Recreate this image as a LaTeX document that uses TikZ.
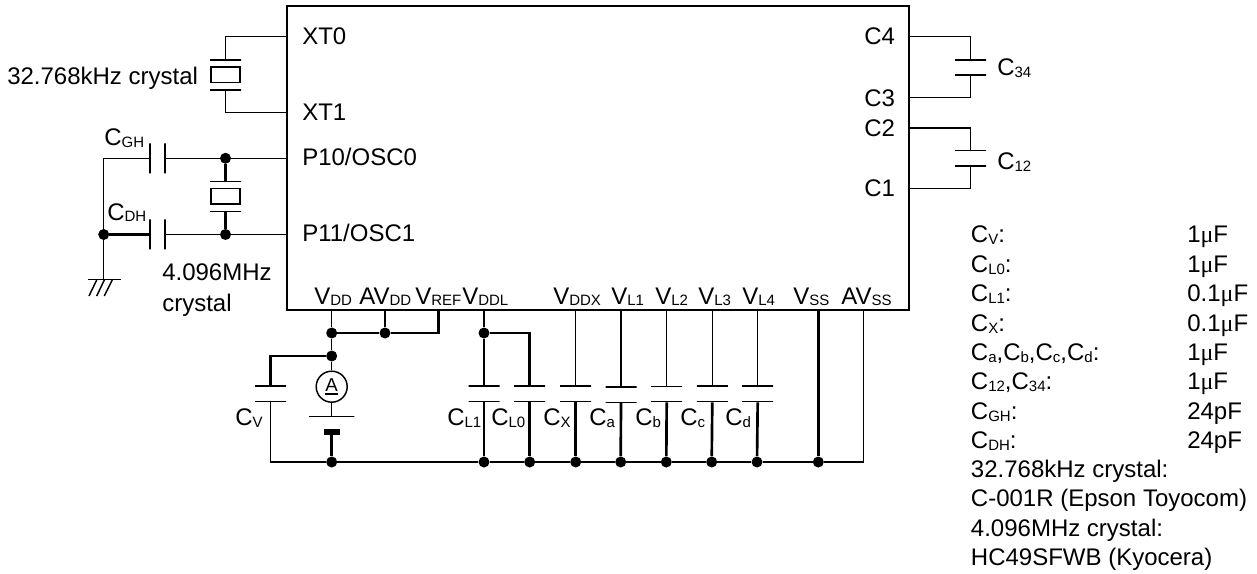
\documentclass[tikz,border=0pt]{standalone}
\usepackage{fontspec}
\setmainfont{Liberation Sans}
\newfontfamily\symfont{Liberation Serif}
\newcommand{\lowidx}[1]{{\fontsize{11.25}{11.25}\selectfont\raisebox{-1.5pt}{#1}}}
\newcommand{\micro}{{\symfont μ}}
\tikzset{
    wire/.style={line width=1.1pt},
    heavy/.style={line width=2pt},
    lbl/.style={inner sep=0pt, anchor=base west, font=\fontsize{18}{18}\selectfont},
    dot/.style={circle, fill=black, inner sep=0pt, minimum size=8.25pt},
    hplate/.style={draw, line width=1.1pt, inner sep=0pt, minimum width=23.25pt, minimum height=0pt},
    vplate/.style={draw, line width=1.1pt, inner sep=0pt, minimum width=0pt, minimum height=22.5pt},
    xtalbox/.style={draw, line width=1.1pt, inner sep=0pt, minimum width=21.5pt, minimum height=11.5pt},
}
\begin{document}
\begin{tikzpicture}[x=0.75pt, y=-0.75pt]
    \useasboundingbox (0,0) rectangle (1257,574);

    % chip
    \node[draw, line width=1.1pt, inner sep=0pt, minimum width=466.5pt, minimum height=228pt] (chip) at (598,158) {};
    \coordinate (xt0) at (286.5,36.7);
    \coordinate (xt1) at (286.5,112.7);
    \coordinate (p10) at (286.5,158.3);
    \coordinate (p11) at (286.5,234.5);
    \coordinate (c4) at (909.5,36.7);
    \coordinate (c3) at (909.5,97.7);
    \coordinate (c2) at (909.5,127.8);
    \coordinate (c1) at (909.5,188.5);
    \coordinate (vdd) at (331.7,310);
    \coordinate (avdd) at (385,310);
    \coordinate (vref) at (438.3,310);
    \coordinate (vddl) at (484,310);
    \coordinate (vddx) at (575.7,310);
    \coordinate (vl1) at (621,310);
    \coordinate (vl2) at (666.7,310);
    \coordinate (vl3) at (712.3,310);
    \coordinate (vl4) at (757.7,310);
    \coordinate (vss) at (818.3,310);
    \coordinate (avss) at (863.7,310);

    \node[lbl] (txt0) at (302,45) {XT0};
    \node[lbl] (txt1) at (302,121) {XT1};
    \node[lbl] (tp10) at (302,166) {P10/OSC0};
    \node[lbl] (tp11) at (302,242) {P11/OSC1};
    \node[lbl] (tc4) at (864,45) {C4};
    \node[lbl] (tc3) at (864,106.7) {C3};
    \node[lbl] (tc2) at (864,136.7) {C2};
    \node[lbl] (tc1) at (864,197) {C1};
    \node[lbl] (tvdd) at (314,304) {V\lowidx{DD}};
    \node[lbl] (tavdd) at (359,304) {AV\lowidx{DD}};
    \node[lbl] (tvref) at (415,304) {V\lowidx{REF}};
    \node[lbl] (tvddl) at (462,304) {V\lowidx{DDL}};
    \node[lbl] (tvddx) at (553,304) {V\lowidx{DDX}};
    \node[lbl] (tvl1) at (611,304) {V\lowidx{L1}};
    \node[lbl] (tvl2) at (655,304) {V\lowidx{L2}};
    \node[lbl] (tvl3) at (698,304) {V\lowidx{L3}};
    \node[lbl] (tvl4) at (742,304) {V\lowidx{L4}};
    \node[lbl] (tvss) at (793,304) {V\lowidx{SS}};
    \node[lbl] (tavss) at (841,304) {AV\lowidx{SS}};

    % 32.768kHz crystal
    \node[hplate] (xa) at (225.5,60) {};
    \node[hplate] (xb) at (225.5,90) {};
    \node[xtalbox] (xbox) at (225.5,74.7) {};
    \draw[wire] (xt0) -| (xa);
    \draw[wire] (xt1) -| (xb);
    \node[lbl] (txa) at (7,85) {32.768kHz crystal};

    % 4.096MHz crystal and its capacitors
    \node[dot] (j10) at (225.5,158.3) {};
    \node[dot] (j11) at (225.5,234.5) {};
    \node[dot] (jg) at (103.7,234.5) {};
    \node[hplate] (ya) at (225.5,181.5) {};
    \node[hplate] (yb) at (225.5,211.5) {};
    \node[xtalbox] (ybox) at (225.5,196.2) {};
    \node[vplate] (cgha) at (150,158.3) {};
    \node[vplate] (cghb) at (165,158.3) {};
    \node[vplate] (cdha) at (150,234.5) {};
    \node[vplate] (cdhb) at (165,234.5) {};
    \draw[wire] (p10) -- (j10);
    \draw[wire] (p11) -- (j11);
    \draw[wire] (j10) -- (cghb);
    \draw[wire] (j11) -- (cdhb);
    \draw[heavy] (j10) -- (ya);
    \draw[heavy] (j11) -- (yb);
    \draw[wire] (cgha) -| (jg);
    \draw[heavy] (jg) -- (cdha);
    \coordinate (gnd) at (103.7,279.7);
    \draw[wire] (jg) -- (gnd);
    \coordinate (gl) at (88,279.7);
    \coordinate (gr) at (120.7,279.7);
    \draw[wire] (gl) -- (gr);
    \coordinate (h1a) at (96.7,280);
    \coordinate (h1b) at (89,296);
    \coordinate (h2a) at (104.3,280);
    \coordinate (h2b) at (96.7,296);
    \coordinate (h3a) at (112.3,280);
    \coordinate (h3b) at (104.3,296);
    \draw[wire] (h1a) -- (h1b);
    \draw[wire] (h2a) -- (h2b);
    \draw[wire] (h3a) -- (h3b);
    \node[lbl] (tcgh) at (104,146) {C\lowidx{GH}};
    \node[lbl] (tcdh) at (107,220) {C\lowidx{DH}};
    \node[lbl] (tya) at (162,280) {4.096MHz};
    \node[lbl] (tyb) at (162,311) {crystal};

    % C34 and C12
    \node[hplate] (c34a) at (970.7,60) {};
    \node[hplate] (c34b) at (970.7,75) {};
    \node[hplate] (c12a) at (970.7,150.7) {};
    \node[hplate] (c12b) at (970.7,166) {};
    \draw[wire] (c4) -| (c34a);
    \draw[wire] (c3) -| (c34b);
    \draw[wire] (c2) -| (c12a);
    \draw[wire] (c1) -| (c12b);
    \node[lbl] (tc34) at (997,76) {C\lowidx{34}};
    \node[lbl] (tc12) at (997,170) {C\lowidx{12}};

    % supply side
    \node[dot] (jdd) at (331.7,333) {};
    \node[dot] (jav) at (385,333) {};
    \node[dot] (jcv) at (331.7,356) {};
    \node[dot] (jdl) at (484,333) {};
    \node[hplate] (cva) at (270.7,386) {};
    \node[hplate] (cvb) at (270.7,401.7) {};
    \node[draw, circle, line width=1.1pt, inner sep=0pt, minimum size=23.25pt] (amp) at (331.7,386.7) {\fontsize{14}{14}\selectfont A\llap{\rule[-2.4pt]{9.4pt}{1.2pt}}};
    \node[hplate, minimum width=34pt] (bata) at (331.7,416.7) {};
    \node[hplate, fill=black, minimum width=11pt, minimum height=3pt] (batb) at (331.7,432) {};
    \draw[wire] (vdd) -- (jdd);
    \draw[wire] (jdd) -- (jcv);
    \draw[heavy] (avdd) -- (jav);
    \draw[heavy] (jdd) -- (jav);
    \draw[heavy] (jav) -| (vref);
    \draw[heavy] (jcv) -| (cva);
    \draw[wire] (jcv) -- (amp);
    \draw[wire] (amp) -- (bata);

    % capacitors on the pins
    \node[hplate] (cl1a) at (484,386) {};
    \node[hplate] (cl1b) at (484,401.7) {};
    \node[hplate] (cl0a) at (529.7,386) {};
    \node[hplate] (cl0b) at (529.7,401.7) {};
    \node[hplate] (cxa) at (575.7,386) {};
    \node[hplate] (cxb) at (575.7,401.7) {};
    \node[hplate] (caa) at (621,387) {};
    \node[hplate] (cab) at (621,402.5) {};
    \node[hplate] (cba) at (666.7,386.5) {};
    \node[hplate] (cbb) at (666.7,401.7) {};
    \node[hplate] (cca) at (712.3,386) {};
    \node[hplate] (ccb) at (712.3,401.7) {};
    \node[hplate] (cda) at (757.7,386) {};
    \node[hplate] (cdb) at (757.7,401.7) {};
    \draw[wire] (vddl) -- (jdl);
    \draw[wire] (jdl) -- (cl1a);
    \draw[heavy] (jdl) -| (cl0a);
    \draw[wire] (vddx) -- (cxa);
    \draw[wire] (vl1) -- (caa);
    \draw[wire] (vl2) -- (cba);
    \draw[wire] (vl3) -- (cca);
    \draw[wire] (vl4) -- (cda);

    % ground rail
    \node[dot] (b0) at (331.7,462) {};
    \node[dot] (b1) at (484,462) {};
    \node[dot] (b2) at (529.7,462) {};
    \node[dot] (b3) at (575.7,462) {};
    \node[dot] (b4) at (620.7,462) {};
    \node[dot] (b5) at (666.3,462) {};
    \node[dot] (b6) at (711.7,462) {};
    \node[dot] (b7) at (757,462) {};
    \node[dot] (b8) at (818.3,462) {};
    \draw[wire] (cvb) |- (b0);
    \draw[wire] (b0) -- (b1);
    \draw[wire] (b1) -- (b2);
    \draw[wire] (b2) -- (b3);
    \draw[wire] (b3) -- (b4);
    \draw[wire] (b4) -- (b5);
    \draw[wire] (b5) -- (b6);
    \draw[wire] (b6) -- (b7);
    \draw[wire] (b7) -- (b8);
    \draw[wire] (b8) -| (avss);
    \draw[heavy] (batb) -- (b0);
    \draw[heavy] (cl1b) -- (b1);
    \draw[heavy] (cl0b) -- (b2);
    \draw[heavy] (cxb) -- (b3);
    \draw[heavy] (cab) -- (b4);
    \draw[heavy] (cbb) -- (b5);
    \draw[heavy] (ccb) -- (b6);
    \draw[heavy] (cdb) -- (b7);
    \draw[heavy] (vss) -- (b8);

    \node[lbl] (tcv) at (235,425) {C\lowidx{V}};
    \node[lbl] (tcl1) at (447,425) {C\lowidx{L1}};
    \node[lbl] (tcl0) at (491,425) {C\lowidx{L0}};
    \node[lbl] (tcx) at (543,425) {C\lowidx{X}};
    \node[lbl] (tca) at (589,425) {C\lowidx{a}};
    \node[lbl] (tcb) at (635,425) {C\lowidx{b}};
    \node[lbl] (tcc) at (680,425) {C\lowidx{c}};
    \node[lbl] (tcd) at (725,425) {C\lowidx{d}};

    % parts list
    \node[lbl] (l1) at (970.7,243) {C\lowidx{V}:};
    \node[lbl] (v1) at (1187,243) {1\micro F};
    \node[lbl] (l2) at (970.7,272.3) {C\lowidx{L0}:};
    \node[lbl] (v2) at (1187,272.3) {1\micro F};
    \node[lbl] (l3) at (970.7,301.6) {C\lowidx{L1}:};
    \node[lbl] (v3) at (1187,301.6) {0.1\micro F};
    \node[lbl] (l4) at (970.7,331) {C\lowidx{X}:};
    \node[lbl] (v4) at (1187,331) {0.1\micro F};
    \node[lbl] (l5) at (970.7,360) {C\lowidx{a},C\lowidx{b},C\lowidx{c},C\lowidx{d}:};
    \node[lbl] (v5) at (1187,360) {1\micro F};
    \node[lbl] (l6) at (970.7,389.6) {C\lowidx{12},C\lowidx{34}:};
    \node[lbl] (v6) at (1187,389.6) {1\micro F};
    \node[lbl] (l7) at (970.7,419) {C\lowidx{GH}:};
    \node[lbl] (v7) at (1187,419) {24pF};
    \node[lbl] (l8) at (970.7,448) {C\lowidx{DH}:};
    \node[lbl] (v8) at (1187,448) {24pF};
    \node[lbl] (l9) at (970.7,477.4) {32.768kHz crystal:};
    \node[lbl] (l10) at (970.7,506.7) {C-001R (Epson Toyocom)};
    \node[lbl] (l11) at (970.7,536) {4.096MHz crystal:};
    \node[lbl] (l12) at (970.7,565) {HC49SFWB (Kyocera)};
\end{tikzpicture}
\end{document}
